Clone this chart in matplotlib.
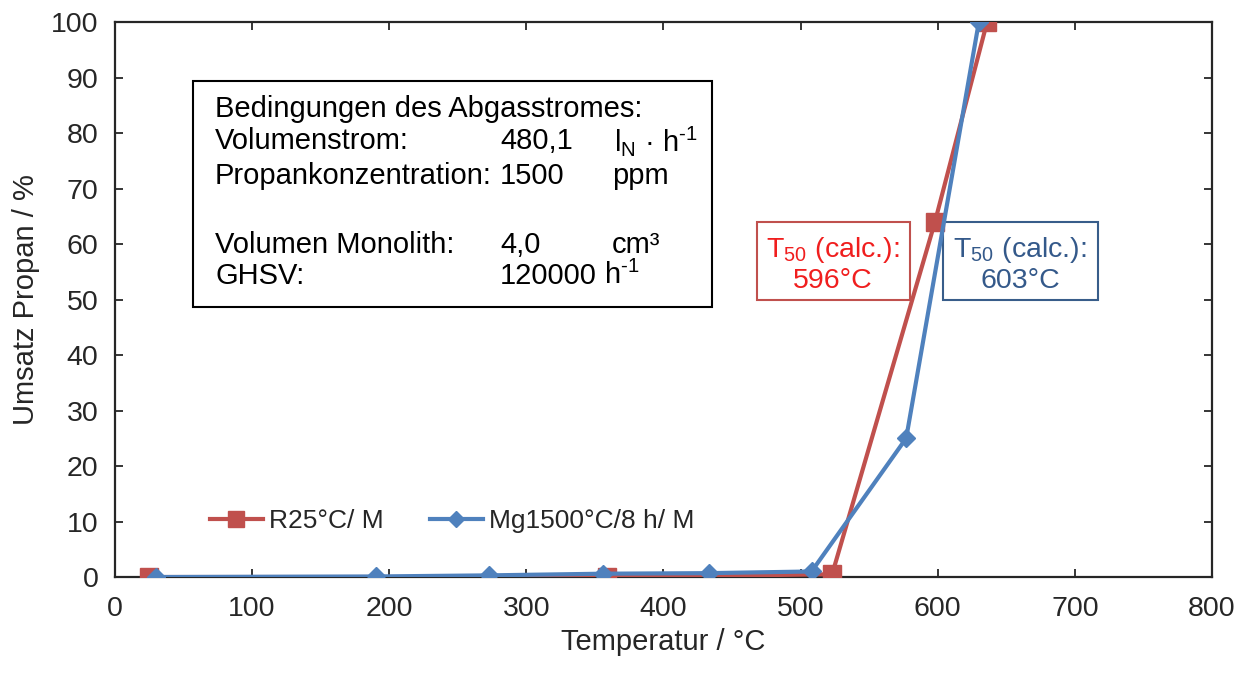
import matplotlib
matplotlib.use("Agg")
import matplotlib.pyplot as plt
from matplotlib.patches import Rectangle

plt.rcParams["font.family"] = ["Liberation Sans", "DejaVu Sans"]
plt.rcParams["mathtext.fontset"] = "custom"
plt.rcParams["mathtext.rm"] = "Liberation Sans"
plt.rcParams["mathtext.it"] = "Liberation Sans:italic"
plt.rcParams["mathtext.bf"] = "Liberation Sans:bold"
plt.rcParams["mathtext.default"] = "regular"

# Propane conversion vs. temperature
temp_r25 = [25, 359, 523, 598, 636]
conv_r25 = [0.0, 0.0, 0.5, 64.0, 100.0]

temp_mg1500 = [30, 190, 273, 356, 433, 508, 577, 630]
conv_mg1500 = [0.0, 0.1, 0.3, 0.6, 0.7, 1.0, 25.0, 100.0]

series_labels = ["R25°C/ M", "Mg1500°C/8 h/ M"]
x_ticks = [0, 100, 200, 300, 400, 500, 600, 700, 800]
y_ticks = [0, 10, 20, 30, 40, 50, 60, 70, 80, 90, 100]
t50_r25 = 596
t50_mg1500 = 603

RED = "#C0504D"
BLUE = "#4F81BD"
AXC = "#262626"

fig = plt.figure(figsize=(12.51, 6.73), dpi=100)
ax = fig.add_axes([0.0919, 0.1426, 0.8769, 0.8247])

ax.plot(temp_r25, conv_r25, color=RED, lw=3, marker="s", ms=13,
        mec=RED, mfc=RED, label=series_labels[0], zorder=3)
ax.plot(temp_mg1500, conv_mg1500, color=BLUE, lw=3, marker="D", ms=9.5,
        mec=BLUE, mfc=BLUE, label=series_labels[1], zorder=4)

ax.set_xlim(0, 800)
ax.set_ylim(0, 100)
ax.set_xticks(x_ticks)
ax.set_yticks(y_ticks)
ax.tick_params(axis="both", direction="in", length=6, width=1.3, colors=AXC,
               labelsize=20.5, top=True, right=True)
ax.tick_params(axis="x", pad=14)
ax.tick_params(axis="y", pad=12)
ax.tick_params(labeltop=False, labelright=False)
for s in ax.spines.values():
    s.set_color(AXC)
    s.set_linewidth(1.6)

ax.set_xlabel("Temperatur / °C", fontsize=21, color=AXC, labelpad=4)
ax.set_ylabel("Umsatz Propan / %", fontsize=21, color=AXC, labelpad=8)

leg = ax.legend(loc="center left", bbox_to_anchor=(0.0865, 0.101), ncol=2,
                frameon=False, fontsize=19, borderpad=0, borderaxespad=0,
                handlelength=2.0, handletextpad=0.25, columnspacing=1.75,
                markerscale=0.85)
for t in leg.get_texts():
    t.set_color(AXC)

# Conditions box
ax.add_patch(Rectangle((0.0711, 0.4865), 0.4731, 0.4072, transform=ax.transAxes,
                       facecolor="white", edgecolor="black", lw=1.5, zorder=5))
fs = 21
rows = [
    (0.843, "Bedingungen des Abgasstromes:", None, None, 0.453),
    (0.786, "Volumenstrom:", "480,1", r"l$_{N}$ · h$^{\text{-1}}$", 0.455),
    (0.722, "Propankonzentration:", "1500", "ppm", 0.453),
    (0.598, "Volumen Monolith:", "4,0", "cm³", 0.453),
    (0.543, "GHSV:", "120000", r"h$^{\text{-1}}$", 0.446),
]
for y, lab, val, unit, ux in rows:
    ax.text(0.0912, y, lab, transform=ax.transAxes, fontsize=fs, va="center",
            ha="left", color="black", zorder=6)
    if val is not None:
        ax.text(0.351, y, val, transform=ax.transAxes, fontsize=fs, va="center",
                ha="left", color="black", zorder=6)
        ax.text(ux, y, unit, transform=ax.transAxes, fontsize=fs, va="center",
                ha="left", color="black", zorder=6)

# T50 annotations
ax.add_patch(Rectangle((0.585, 0.499), 0.1397, 0.1406, transform=ax.transAxes,
                       facecolor="white", edgecolor="#C0504D", lw=1.5, zorder=2))
ax.text(0.654, 0.589, r"T$_{50}$ (calc.):", transform=ax.transAxes, fontsize=20.5,
        ha="center", va="center", color="#F01E1E", zorder=6)
ax.text(0.654, 0.533, f"{t50_r25}°C", transform=ax.transAxes, fontsize=20.5,
        ha="center", va="center", color="#F01E1E", zorder=6)

ax.add_patch(Rectangle((0.7548, 0.499), 0.1413, 0.1406, transform=ax.transAxes,
                       facecolor="white", edgecolor="#385D8A", lw=1.5, zorder=2))
ax.text(0.825, 0.589, r"T$_{50}$ (calc.):", transform=ax.transAxes, fontsize=20.5,
        ha="center", va="center", color="#34598A", zorder=6)
ax.text(0.825, 0.533, f"{t50_mg1500}°C", transform=ax.transAxes, fontsize=20.5,
        ha="center", va="center", color="#34598A", zorder=6)

fig.savefig("out.png", dpi=100)
